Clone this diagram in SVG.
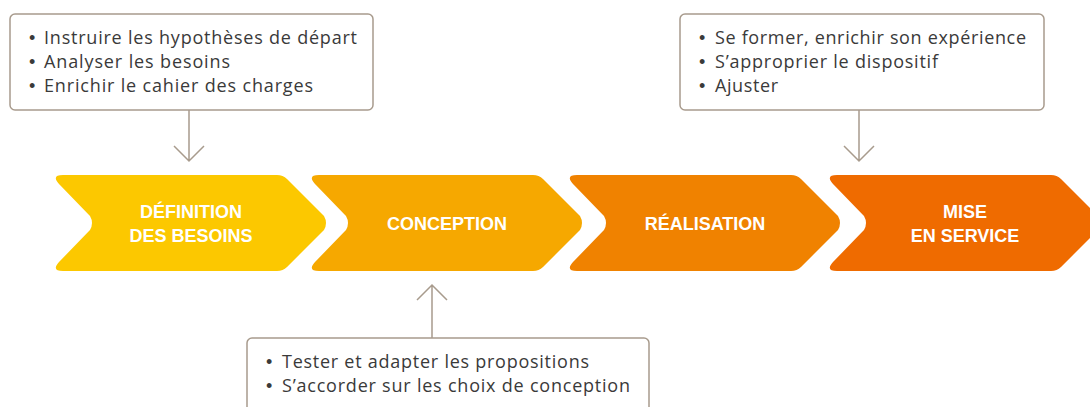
<svg xmlns="http://www.w3.org/2000/svg" width="1090" height="407" viewBox="0 0 1090 407">
  <defs>
    <style>
      .box { fill: #ffffff; stroke: #a89b8d; stroke-width: 1.5; }
      .conn { fill: none; stroke: #a89b8d; stroke-width: 1.5; }
      .item { font-family: "Open Sans", "Liberation Sans", Arial, sans-serif; font-size: 18px; fill: #3a3a3a; }
      .dot { font-family: "Liberation Sans", Arial, sans-serif; font-size: 18px; fill: #3a3a3a; }
      .label { font-family: "Liberation Sans", Arial, sans-serif; font-size: 18px; font-weight: bold; fill: #ffffff; text-anchor: middle; }
    </style>
    <!-- chevron outline: left point x=2, notch x=45, top right x=234, tip x=279; corners softened with quadratic curves -->
    <path id="chevron" d="M 14,0 L 228,0 Q 234,0 238,4 L 275,41 Q 279,48 275,55 L 238,92 Q 234,96 228,96 L 14,96 Q 2,96 10,87 L 41,55 Q 45,48 41,41 L 10,9 Q 2,0 14,0 Z"/>
  </defs>

  <rect width="1090" height="407" fill="#ffffff"/>

  <!-- phase chevrons -->
  <g id="phase-definition">
    <use href="#chevron" x="49" y="175" fill="#fcc800"/>
    <text class="label" x="191" y="218">DÉFINITION</text>
    <text class="label" x="191" y="242">DES BESOINS</text>
  </g>
  <g id="phase-conception">
    <use href="#chevron" x="305" y="175" fill="#f6a800"/>
    <text class="label" x="447" y="230">CONCEPTION</text>
  </g>
  <g id="phase-realisation">
    <use href="#chevron" x="563" y="175" fill="#f08200"/>
    <text class="label" x="705" y="230">RÉALISATION</text>
  </g>
  <g id="phase-mise-en-service">
    <use href="#chevron" x="823" y="175" fill="#ef6b00"/>
    <text class="label" x="965" y="218">MISE</text>
    <text class="label" x="965" y="242">EN SERVICE</text>
  </g>

  <!-- note boxes -->
  <g id="note-definition">
    <rect class="box" x="10" y="14" width="363" height="96" rx="5"/>
    <text class="dot" x="29" y="43.5">•</text>
    <text class="item" x="44" y="43.5" textLength="313" lengthAdjust="spacing">Instruire les hypothèses de départ</text>
    <text class="dot" x="29" y="67.5">•</text>
    <text class="item" x="44" y="67.5" textLength="186" lengthAdjust="spacing">Analyser les besoins</text>
    <text class="dot" x="29" y="91.5">•</text>
    <text class="item" x="44" y="91.5" textLength="269" lengthAdjust="spacing">Enrichir le cahier des charges</text>
  </g>
  <g id="note-mise-en-service">
    <rect class="box" x="680" y="14" width="364" height="96" rx="5"/>
    <text class="dot" x="699" y="43.5">•</text>
    <text class="item" x="715" y="43.5" textLength="311" lengthAdjust="spacing">Se former, enrichir son expérience</text>
    <text class="dot" x="699" y="67.5">•</text>
    <text class="item" x="715" y="67.5" textLength="223" lengthAdjust="spacing">S’approprier le dispositif</text>
    <text class="dot" x="699" y="91.5">•</text>
    <text class="item" x="715" y="91.5" textLength="63" lengthAdjust="spacing">Ajuster</text>
  </g>
  <g id="note-conception">
    <rect class="box" x="247" y="338" width="402" height="90" rx="5"/>
    <text class="dot" x="266" y="367.5">•</text>
    <text class="item" x="282" y="367.5" textLength="307" lengthAdjust="spacing">Tester et adapter les propositions</text>
    <text class="dot" x="266" y="391.5">•</text>
    <text class="item" x="282" y="391.5" textLength="348" lengthAdjust="spacing">S’accorder sur les choix de conception</text>
  </g>

  <!-- connectors with open arrowheads -->
  <g id="connectors">
    <path class="conn" d="M 189,110 V 161 M 174,146 L 189,161 L 204,146"/>
    <path class="conn" d="M 859,110 V 161 M 844,146 L 859,161 L 874,146"/>
    <path class="conn" d="M 432,338 V 285 M 417,300 L 432,285 L 447,300"/>
  </g>
</svg>
